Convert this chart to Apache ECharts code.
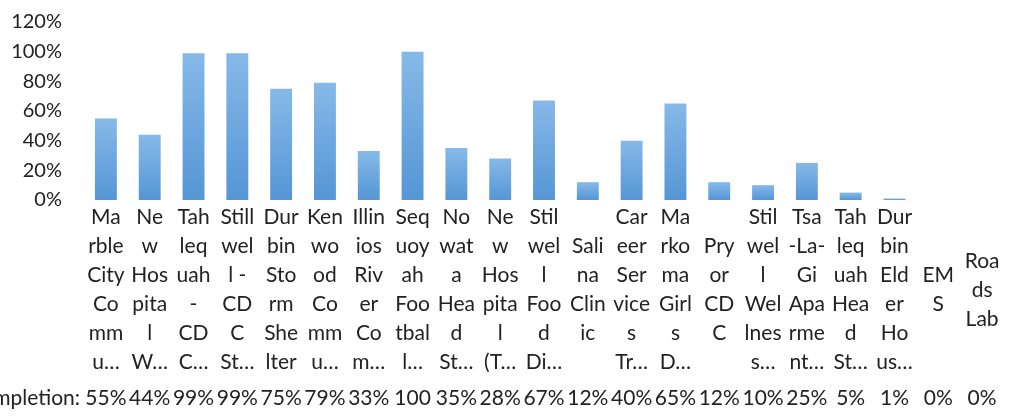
<!DOCTYPE html>
<html>
<head>
<meta charset="utf-8">
<script src="https://cdn.jsdelivr.net/npm/echarts@6/dist/echarts.min.js"></script>
<style>
	html, body { margin: 0; padding: 0; background: #fff; }
	#chart { width: 1010px; height: 416px; }
</style>
</head>
<body>
<div id="chart"></div>
<script>
	// categories, already wrapped the way the cell labels are
	var sites = [
		'Ma\nrble\nCity\nCo\nmm\nu…',
		'Ne\nw\nHos\npita\nl\nW…',
		'Tah\nleq\nuah\n-\nCD\nC…',
		'Still\nwel\nl -\nCD\nC\nSt…',
		'Dur\nbin\nSto\nrm\nShe\nlter',
		'Ken\nwo\nod\nCo\nmm\nu…',
		'Illin\nios\nRiv\ner\nCo\nm…',
		'Seq\nuoy\nah\nFoo\ntbal\nl…',
		'No\nwat\na\nHea\nd\nSt…',
		'Ne\nw\nHos\npita\nl\n(T…',
		'Stil\nwel\nl\nFoo\nd\nDi…',
		'Sali\nna\nClin\nic',
		'Car\neer\nSer\nvice\ns\nTr…',
		'Ma\nrko\nma\nGirl\ns\nD…',
		'Pry\nor\nCD\nC',
		'Stil\nwel\nl\nWel\nlnes\ns…',
		'Tsa\n-La-\nGi\nApa\nrme\nnt…',
		'Tah\nleq\nuah\nHea\nd\nSt…',
		'Dur\nbin\nEld\ner\nHo\nus…',
		'EM\nS',
		'Roa\nds\nLab'
	];
	// % completion
	var completion = [55, 44, 99, 99, 75, 79, 33, 100, 35, 28, 67, 12, 40, 65, 12, 10, 25, 5, 1, 0, 0];
	var yTicks = [0, 20, 40, 60, 80, 100, 120];

	var txt = '#222';
	var font = 'Lato';

	var chart = echarts.init(document.getElementById('chart'));
	chart.setOption({
		animation: false,
		textStyle: { fontFamily: font },
		grid: { left: 84, right: 6, top: 22, bottom: 216, containLabel: false, outerBoundsMode: 'none' },
		xAxis: [{
			type: 'category',
			data: sites,
			axisLine: { show: false },
			axisTick: { show: false },
			axisLabel: {
				interval: 0,
				margin: 90,
				verticalAlign: 'middle',
				lineHeight: 29,
				fontSize: 21,
				fontFamily: font,
				color: txt
			}
		}, {
			// data table row under the chart
			type: 'category',
			position: 'bottom',
			offset: 198,
			data: completion.map(function (v) { return v >= 100 ? String(v) : v + '%'; }),
			name: 'Completion:',
			nameLocation: 'start',
			nameGap: 4,
			nameTextStyle: { fontSize: 21, fontFamily: font, color: txt, verticalAlign: 'middle', align: 'right' },
			axisLine: { show: false },
			axisTick: { show: false },
			axisLabel: {
				interval: 0,
				margin: 0,
				verticalAlign: 'middle',
				fontSize: 21,
				fontFamily: font,
				color: txt
			}
		}],
		yAxis: {
			type: 'value',
			min: yTicks[0],
			max: yTicks[yTicks.length - 1],
			interval: 20,
			splitLine: { show: false },
			axisLine: { show: false },
			axisTick: { show: false },
			axisLabel: {
				margin: 22,
				fontSize: 20,
				fontFamily: font,
				color: txt,
				formatter: '{value}%'
			}
		},
		series: [{
			type: 'bar',
			data: completion,
			barWidth: '50%',
			itemStyle: {
				color: new echarts.graphic.LinearGradient(0, 0, 0, 1, [
					{ offset: 0, color: '#86b9e8' },
					{ offset: 1, color: '#5596d6' }
				])
			}
		}]
	});
</script>
</body>
</html>
